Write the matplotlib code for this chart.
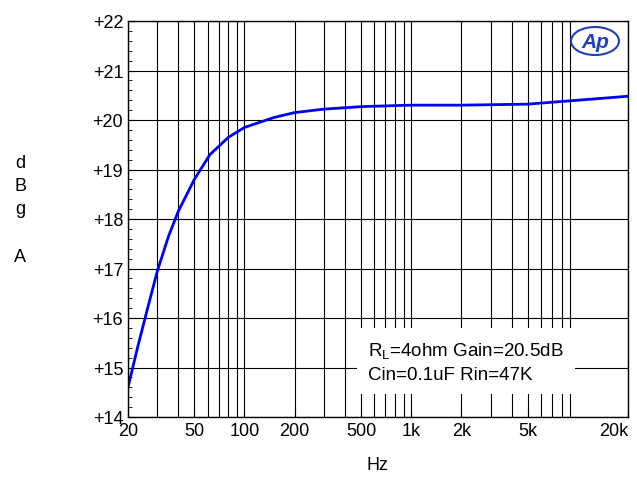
import matplotlib.pyplot as plt
from matplotlib.patches import Ellipse
import numpy as np

plt.rcParams['font.family'] = ['Liberation Sans', 'DejaVu Sans']

freq = [20, 23, 26, 30, 35, 40, 50, 62, 80, 100, 150, 200, 300, 500, 1000, 2000, 5000, 10000, 20000]
gain = [14.6, 15.45, 16.15, 16.95, 17.65, 18.15, 18.8, 19.3, 19.65, 19.85, 20.05, 20.15, 20.22, 20.27, 20.3, 20.3, 20.32, 20.4, 20.48]

xticks = [20, 50, 100, 200, 500, 1000, 2000, 5000, 20000]
xlabels = ['20', '50', '100', '200', '500', '1k', '2k', '5k', '20k']
yticks = list(range(14, 23))

fig = plt.figure(figsize=(6.37, 4.85), dpi=100)
ax = fig.add_axes([128/637, 1-418/485, 500/637, 396/485])

ax.plot(freq, gain, color='#0000ff', lw=2)
ax.set_xscale('log')
ax.set_xlim(20, 20000)
ax.set_ylim(14, 22)
ax.set_xticks(xticks)
ax.set_xticklabels(xlabels)
ax.get_xticklabels()[-1].set_ha('right')
ax.set_yticks(yticks)
ax.set_yticklabels(['+%d' % v for v in yticks])
ax.set_yticks(np.arange(14, 22, 0.2), minor=True)
ax.grid(True, which='major', color='black', lw=0.8)
ax.grid(True, which='minor', axis='x', color='black', lw=0.8)
ax.tick_params(which='both', direction='in', labelsize=13)
ax.tick_params(which='minor', axis='y', length=3)
ax.tick_params(which='minor', axis='x', length=0)
ax.tick_params(which='major', length=5)
for s in ax.spines.values():
    s.set_linewidth(1)

ax.set_xlabel('Hz', fontsize=13, labelpad=12)
fig.text(20/637, 1-210/485, 'd\nB\ng\n\nA', fontsize=13, ha='center', va='center', linespacing=1.5)

ax.text(0.48, 0.14, '$\\mathregular{R_L}$=4ohm Gain=20.5dB\nCin=0.1uF Rin=47K',
        transform=ax.transAxes, fontsize=13.5, va='center', linespacing=1.5,
        bbox=dict(facecolor='white', edgecolor='none', pad=8))

fig.text(595/637, 1-42/485, 'Ap', fontsize=15, color='#1f3fbf', style='italic',
         weight='bold', ha='center', va='center')
fig.patches.append(Ellipse((595/637, 1-42/485), 48/637, 28/485, transform=fig.transFigure,
                           fill=False, edgecolor='#1f3fbf', lw=1.5))

fig.savefig('out.png', dpi=100)
